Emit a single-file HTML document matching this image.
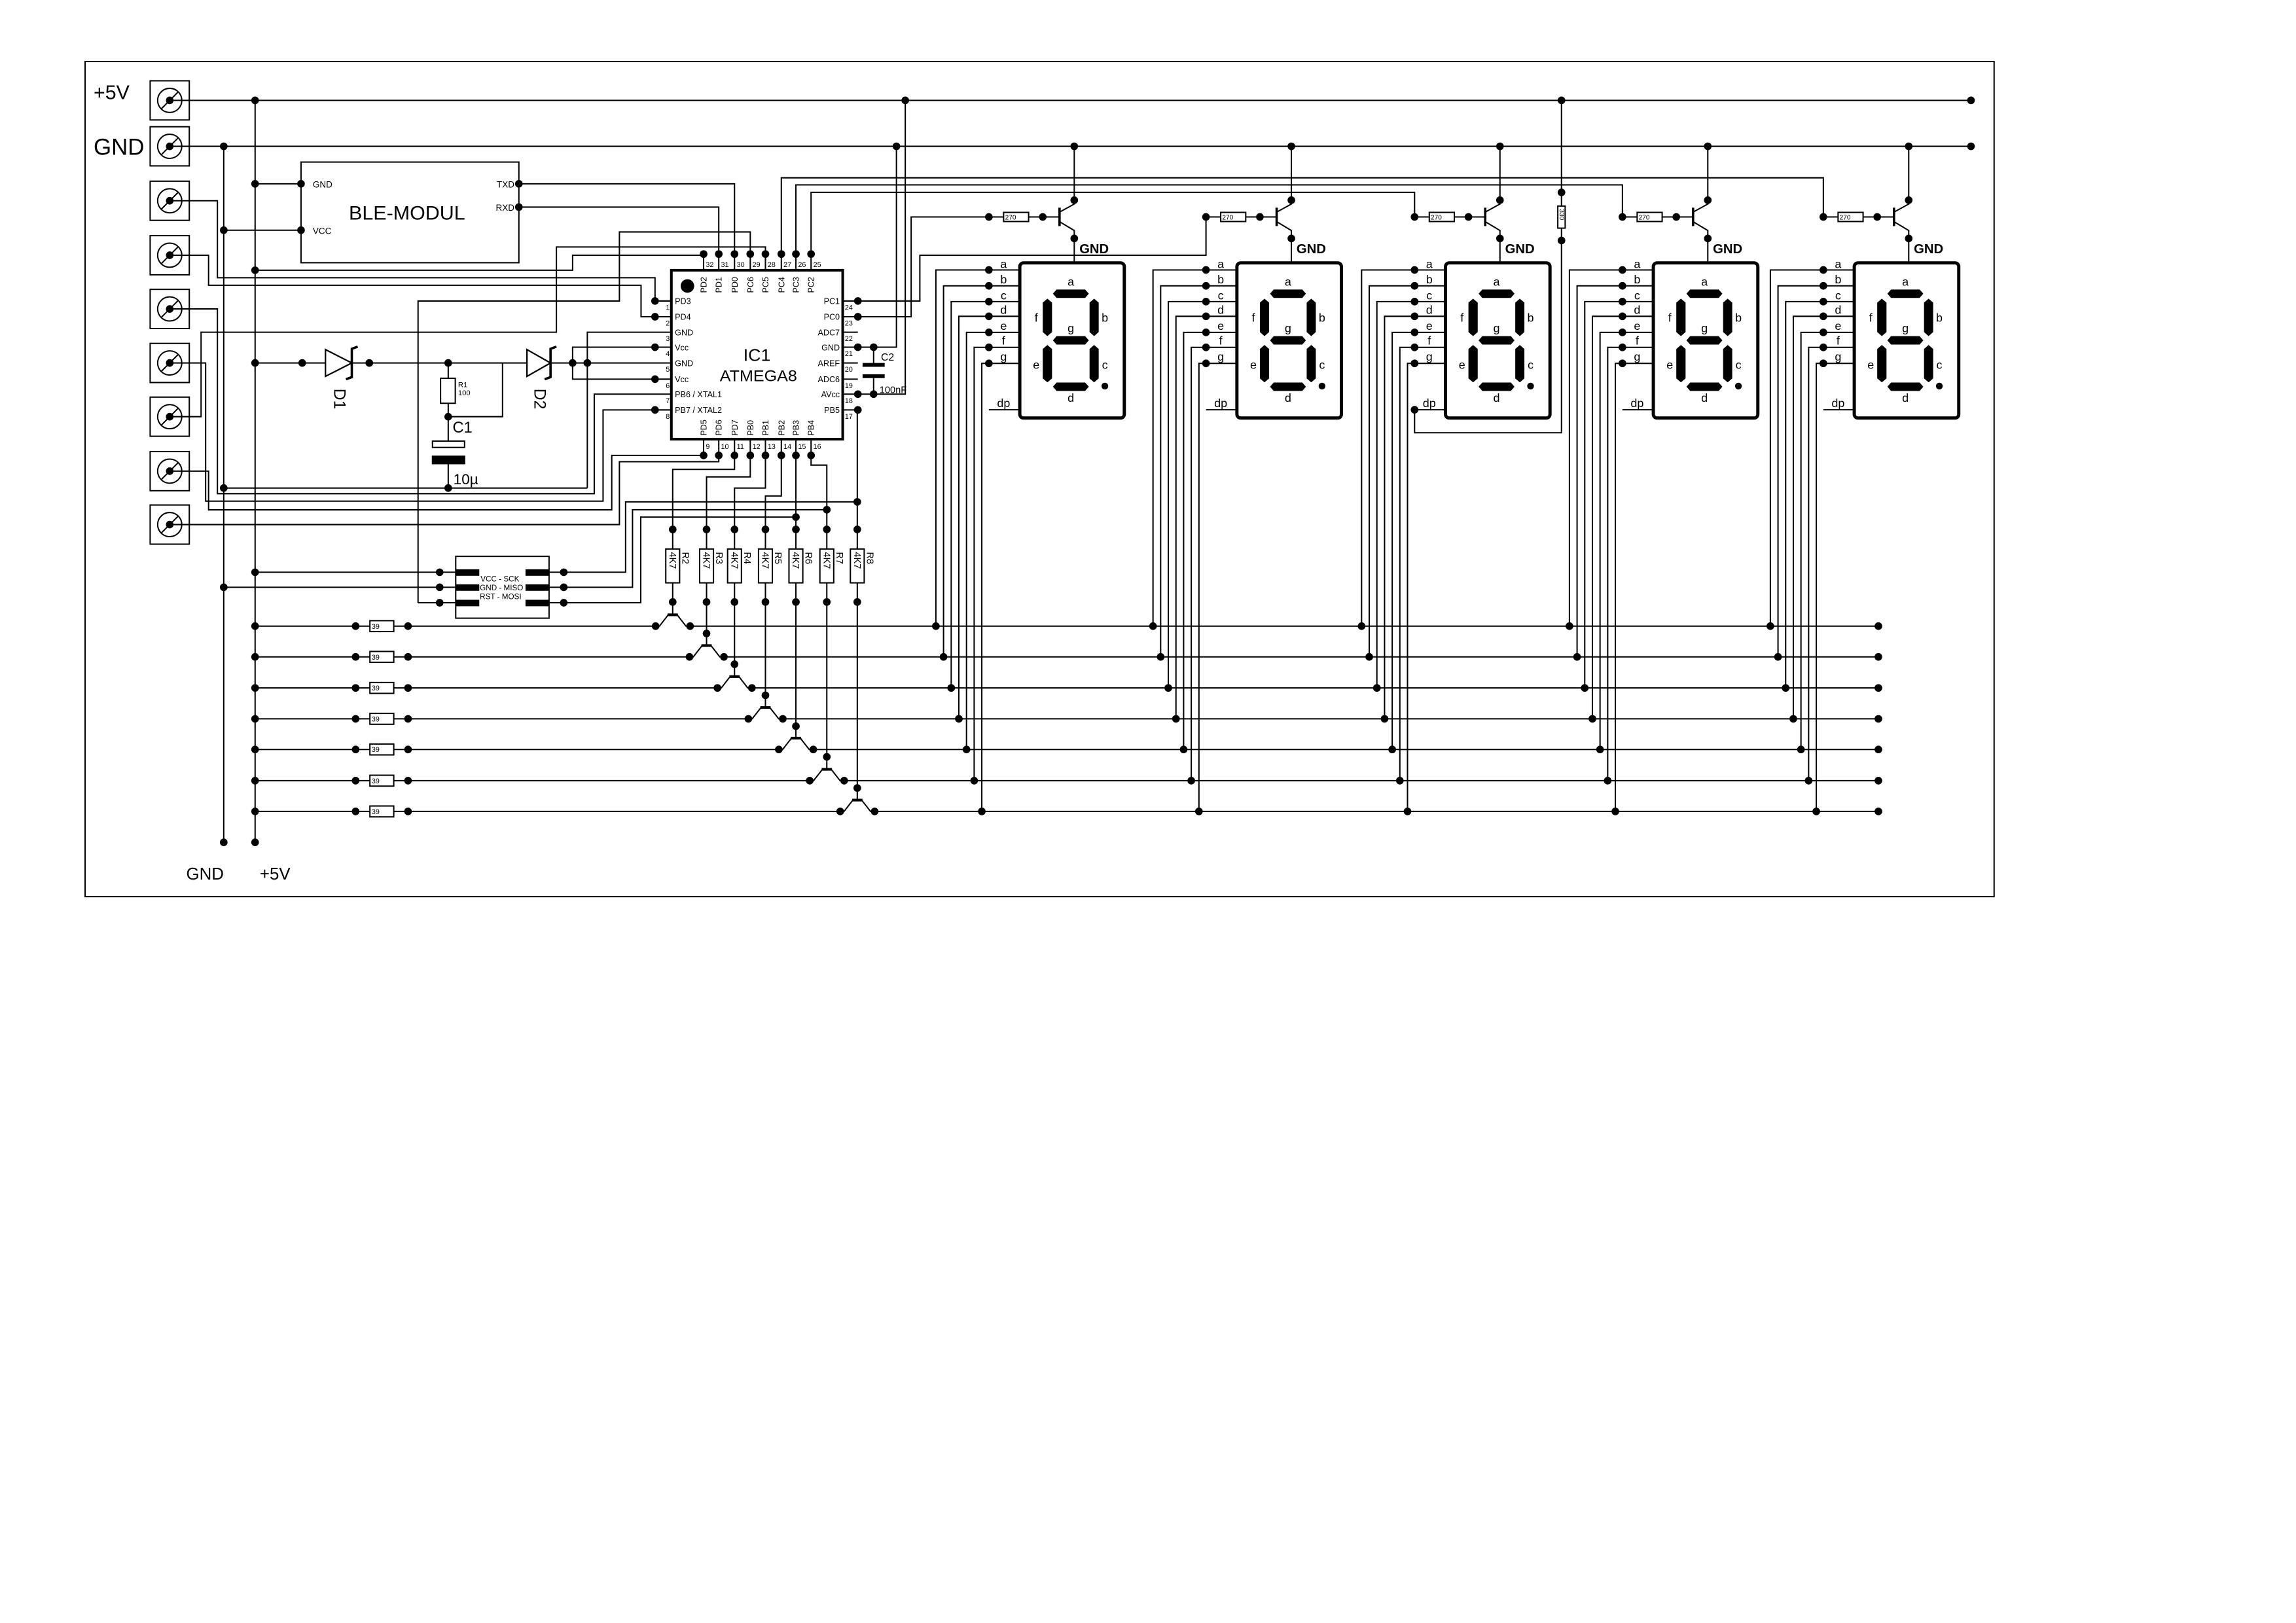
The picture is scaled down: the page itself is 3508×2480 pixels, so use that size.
<!DOCTYPE html>
<html><head><meta charset="utf-8"><style>
html,body{margin:0;padding:0;background:#fff;}
svg{display:block;}
text{font-family:"Liberation Sans",Arial,sans-serif;fill:#000;stroke:none;}
</style></head><body>
<svg xmlns="http://www.w3.org/2000/svg" width="3508" height="2480" viewBox="0 0 1559.8 1102.7" preserveAspectRatio="none">
<rect x="0" y="0" width="1559.8" height="1102.7" fill="#fff"/>
<g stroke="#000" stroke-width="0.9" fill="none" stroke-linejoin="miter">
<!-- frame -->
<rect x="57.8" y="41.8" width="1296.9" height="567.4"/>
<!-- terminals -->
<g id="terms">
<rect x="102" y="54.9" width="26.6" height="26.6"/><circle cx="115.3" cy="68.2" r="8.2"/><line x1="109.8" y1="73.7" x2="120.8" y2="62.7"/>
<rect x="102" y="86.1" width="26.6" height="26.6"/><circle cx="115.3" cy="99.4" r="8.2"/><line x1="109.8" y1="104.9" x2="120.8" y2="93.9"/>
<rect x="102" y="123.1" width="26.6" height="26.6"/><circle cx="115.3" cy="136.4" r="8.2"/><line x1="109.8" y1="141.9" x2="120.8" y2="130.9"/>
<rect x="102" y="160.1" width="26.6" height="26.6"/><circle cx="115.3" cy="173.4" r="8.2"/><line x1="109.8" y1="178.9" x2="120.8" y2="167.9"/>
<rect x="102" y="196.6" width="26.6" height="26.6"/><circle cx="115.3" cy="209.9" r="8.2"/><line x1="109.8" y1="215.4" x2="120.8" y2="204.4"/>
<rect x="102" y="233.3" width="26.6" height="26.6"/><circle cx="115.3" cy="246.6" r="8.2"/><line x1="109.8" y1="252.1" x2="120.8" y2="241.1"/>
<rect x="102" y="269.8" width="26.6" height="26.6"/><circle cx="115.3" cy="283.1" r="8.2"/><line x1="109.8" y1="288.6" x2="120.8" y2="277.6"/>
<rect x="102" y="306.8" width="26.6" height="26.6"/><circle cx="115.3" cy="320.1" r="8.2"/><line x1="109.8" y1="325.6" x2="120.8" y2="314.6"/>
<rect x="102" y="343.1" width="26.6" height="26.6"/><circle cx="115.3" cy="356.4" r="8.2"/><line x1="109.8" y1="361.9" x2="120.8" y2="350.9"/>
</g>
<!-- power rails -->
<line x1="115.3" y1="68.2" x2="1339" y2="68.2"/>
<line x1="115.3" y1="99.4" x2="1339" y2="99.4"/>
<line x1="173.3" y1="68.2" x2="173.3" y2="572.3"/>
<line x1="152" y1="99.4" x2="152" y2="572.3"/>
<!-- BLE -->
<rect x="204.5" y="110.1" width="148" height="68.4"/>
<line x1="173.3" y1="124.9" x2="204.5" y2="124.9"/>
<line x1="152" y1="156.4" x2="204.5" y2="156.4"/>
<polyline points="352.5,124.9 499,124.9 499,172.6"/>
<polyline points="352.5,140.7 488.3,140.7 488.3,172.6"/>
<!-- terminal routes -->
<polyline points="115.3,136.4 147.7,136.4 147.7,188.7 445,188.7 445,204.5 456,204.5"/>
<polyline points="115.3,173.4 141.7,173.4 141.7,193.8 435.5,193.8 435.5,215.2 456,215.2"/>
<polyline points="115.3,209.9 147.7,209.9 147.7,335.4 403.7,335.4 403.7,267.8 456,267.8"/>
<polyline points="115.3,246.6 139.7,246.6 139.7,340.5 409.7,340.5 409.7,278.5 456,278.5"/>
<polyline points="115.3,283.1 136.6,283.1 136.6,225.7 378,225.7 378,167.8 520,167.8 520,172.6"/>
<polyline points="115.3,320.1 141.7,320.1 141.7,346.4 415.6,346.4 415.6,309.4 478,309.4"/>
<polyline points="115.3,356.4 420.8,356.4 420.8,313.7 488.3,313.7 488.3,309.4"/>
<!-- +5V to pin 32 -->
<polyline points="173.3,183.6 389,183.6 389,173.4 478,173.4"/>
<!-- RST route -->
<polyline points="284,409.5 284,204.5 420.8,204.5 420.8,157.6 509.7,157.6 509.7,172.6"/>
<!-- power section -->
<line x1="173.3" y1="246.6" x2="221.1" y2="246.6"/>
<line x1="239" y1="246.6" x2="358" y2="246.6"/>
<line x1="374" y1="246.6" x2="456" y2="246.6"/>
<polygon points="221.1,237.5 221.1,255.7 239,246.6" stroke-width="1"/>
<polyline points="243,235.5 239,237 239,256.2 235,257.7" stroke-width="1.6"/>
<polygon points="358,237.5 358,255.7 374,246.6" stroke-width="1"/>
<polyline points="378,235.5 374,237 374,256.2 370,257.7" stroke-width="1.6"/>
<polyline points="456,235.9 389,235.9 389,257.6 456,257.6"/>
<polyline points="456,225.7 399,225.7 399,331.6"/>
<line x1="152" y1="331.6" x2="399" y2="331.6"/>
<line x1="304.5" y1="246.6" x2="304.5" y2="257"/>
<rect x="299.3" y="257" width="10" height="17"/>
<line x1="304.5" y1="274" x2="304.5" y2="299.7"/>
<polyline points="304.5,283.1 341.4,283.1 341.4,246.6"/>
<rect x="293.8" y="299.7" width="21.8" height="4.3"/>
<rect x="293.8" y="310" width="21.8" height="5" fill="#000"/>
<line x1="304.5" y1="315" x2="304.5" y2="331.6"/>
<!-- chip -->
<rect x="456.1" y="183.6" width="116.4" height="114.8" stroke-width="1.8"/>
<g>
<line x1="478" y1="172.6" x2="478" y2="183.6"/><line x1="488.3" y1="172.6" x2="488.3" y2="183.6"/><line x1="499" y1="172.6" x2="499" y2="183.6"/><line x1="509.7" y1="172.6" x2="509.7" y2="183.6"/><line x1="520" y1="172.6" x2="520" y2="183.6"/><line x1="530.8" y1="172.6" x2="530.8" y2="183.6"/><line x1="540.7" y1="172.6" x2="540.7" y2="183.6"/><line x1="551" y1="172.6" x2="551" y2="183.6"/>
<line x1="478" y1="298.4" x2="478" y2="309.4"/><line x1="488.3" y1="298.4" x2="488.3" y2="309.4"/><line x1="499" y1="298.4" x2="499" y2="309.4"/><line x1="509.7" y1="298.4" x2="509.7" y2="309.4"/><line x1="520" y1="298.4" x2="520" y2="309.4"/><line x1="530.8" y1="298.4" x2="530.8" y2="309.4"/><line x1="540.7" y1="298.4" x2="540.7" y2="309.4"/><line x1="551" y1="298.4" x2="551" y2="309.4"/>
<line x1="445" y1="204.5" x2="456" y2="204.5"/><line x1="445" y1="215.2" x2="456" y2="215.2"/><line x1="445" y1="235.9" x2="456" y2="235.9"/><line x1="445" y1="257.6" x2="456" y2="257.6"/><line x1="445" y1="278.5" x2="456" y2="278.5"/>
<line x1="572.5" y1="204.5" x2="582.8" y2="204.5"/><line x1="572.5" y1="215.2" x2="582.8" y2="215.2"/><line x1="572.5" y1="225.7" x2="582.8" y2="225.7"/><line x1="572.5" y1="235.9" x2="593.5" y2="235.9"/><line x1="572.5" y1="246.6" x2="582.8" y2="246.6"/><line x1="572.5" y1="257.6" x2="582.8" y2="257.6"/><line x1="572.5" y1="267.8" x2="593.5" y2="267.8"/><line x1="572.5" y1="278.5" x2="582.8" y2="278.5"/>
</g>
<!-- C2 and right pins -->
<line x1="593.5" y1="235.9" x2="593.5" y2="247.9"/>
<line x1="593.5" y1="255.6" x2="593.5" y2="267.8"/>
<line x1="586" y1="247.9" x2="601" y2="247.9" stroke-width="2.6"/>
<line x1="586" y1="255.6" x2="601" y2="255.6" stroke-width="2.6"/>
<polyline points="593.5,235.9 609,235.9 609,99.4"/>
<polyline points="593.5,267.8 615,267.8 615,68.2"/>
<polyline points="582.8,215.2 619,215.2 619,147.4 671.8,147.4"/>
<polyline points="582.8,204.5 624.9,204.5 624.9,173.4 819.3,173.4 819.3,147.4"/>
<polyline points="551,172.6 551,130.7 961,130.7 961,147.4"/>
<polyline points="540.7,172.6 540.7,125.6 1102.2,125.6 1102.2,147.4"/>
<polyline points="530.8,172.6 530.8,120.8 1238.7,120.8 1238.7,147.4"/>
<!-- bottom pin routes to resistor columns -->
<polyline points="499,309.4 499,318.9 457,318.9 457,409"/>
<polyline points="509.7,309.4 509.7,324 480,324 480,409"/>
<polyline points="520,309.4 520,331.6 499,331.6 499,409"/>
<polyline points="530.8,309.4 530.8,337 520,337 520,409"/>
<line x1="540.7" y1="309.4" x2="540.7" y2="409"/>
<polyline points="551,309.4 551,316 561.7,316 561.7,409"/>
<line x1="582.4" y1="278.5" x2="582.4" y2="409"/>
<!-- resistors R2..R8 -->
<g fill="#fff">
<rect x="452.3" y="373" width="9.4" height="23"/><rect x="475.3" y="373" width="9.4" height="23"/><rect x="494.3" y="373" width="9.4" height="23"/><rect x="515.3" y="373" width="9.4" height="23"/><rect x="536" y="373" width="9.4" height="23"/><rect x="557" y="373" width="9.4" height="23"/><rect x="577.7" y="373" width="9.4" height="23"/>
</g>
<!-- ISP -->
<rect x="309.6" y="378" width="63.4" height="42"/>
<line x1="173.3" y1="388.8" x2="309.6" y2="388.8"/>
<line x1="152" y1="399" x2="309.6" y2="399"/>
<line x1="284" y1="409.5" x2="309.6" y2="409.5"/>
<polyline points="373,388.8 425,388.8 425,341 582.4,341"/>
<polyline points="373,399 429.7,399 429.7,346.3 561.7,346.3"/>
<polyline points="373,409.5 435.3,409.5 435.3,351.3 540.7,351.3"/>
<g fill="#000" stroke="none">
<rect x="309.6" y="386.8" width="16" height="4.4"/><rect x="309.6" y="397" width="16" height="4.4"/><rect x="309.6" y="407.5" width="16" height="4.4"/>
<rect x="357" y="386.8" width="16" height="4.4"/><rect x="357" y="397" width="16" height="4.4"/><rect x="357" y="407.5" width="16" height="4.4"/>
</g>
<!-- rows -->
<g>
<line x1="173.3" y1="425.4" x2="445.4" y2="425.4"/><line x1="468.8" y1="425.4" x2="1276.1" y2="425.4"/>
<line x1="173.3" y1="446.3" x2="468.4" y2="446.3"/><line x1="491.8" y1="446.3" x2="1276.1" y2="446.3"/>
<line x1="173.3" y1="467.4" x2="487.4" y2="467.4"/><line x1="510.8" y1="467.4" x2="1276.1" y2="467.4"/>
<line x1="173.3" y1="488.4" x2="508.4" y2="488.4"/><line x1="531.8" y1="488.4" x2="1276.1" y2="488.4"/>
<line x1="173.3" y1="509.2" x2="529.1" y2="509.2"/><line x1="552.5" y1="509.2" x2="1276.1" y2="509.2"/>
<line x1="173.3" y1="530.4" x2="550.1" y2="530.4"/><line x1="573.5" y1="530.4" x2="1276.1" y2="530.4"/>
<line x1="173.3" y1="551.3" x2="570.8" y2="551.3"/><line x1="594.2" y1="551.3" x2="1276.1" y2="551.3"/>
</g>
<g fill="#fff">
<rect x="251.3" y="421.7" width="16.2" height="7.4"/><rect x="251.3" y="442.6" width="16.2" height="7.4"/><rect x="251.3" y="463.7" width="16.2" height="7.4"/><rect x="251.3" y="484.7" width="16.2" height="7.4"/><rect x="251.3" y="505.5" width="16.2" height="7.4"/><rect x="251.3" y="526.7" width="16.2" height="7.4"/><rect x="251.3" y="547.6" width="16.2" height="7.4"/>
</g>
<!-- row transistors -->
<g>
<line x1="457" y1="409" x2="457" y2="417.7"/><polyline points="445.4,425.4 448,425.4 454,417.7"/><polyline points="460,417.7 466,425.4 468.8,425.4"/><line x1="453.5" y1="417.7" x2="460.5" y2="417.7" stroke-width="1.8"/>
<line x1="480" y1="409" x2="480" y2="438.6"/><polyline points="468.4,446.3 471,446.3 477,438.6"/><polyline points="483,438.6 489,446.3 491.8,446.3"/><line x1="476.5" y1="438.6" x2="483.5" y2="438.6" stroke-width="1.8"/>
<line x1="499" y1="409" x2="499" y2="459.7"/><polyline points="487.4,467.4 490,467.4 496,459.7"/><polyline points="502,459.7 508,467.4 510.8,467.4"/><line x1="495.5" y1="459.7" x2="502.5" y2="459.7" stroke-width="1.8"/>
<line x1="520" y1="409" x2="520" y2="480.7"/><polyline points="508.4,488.4 511,488.4 517,480.7"/><polyline points="523,480.7 529,488.4 531.8,488.4"/><line x1="516.5" y1="480.7" x2="523.5" y2="480.7" stroke-width="1.8"/>
<line x1="540.7" y1="409" x2="540.7" y2="501.5"/><polyline points="529.1,509.2 531.7,509.2 537.7,501.5"/><polyline points="543.7,501.5 549.7,509.2 552.5,509.2"/><line x1="537.2" y1="501.5" x2="544.2" y2="501.5" stroke-width="1.8"/>
<line x1="561.7" y1="409" x2="561.7" y2="522.7"/><polyline points="550.1,530.4 552.7,530.4 558.7,522.7"/><polyline points="564.7,522.7 570.7,530.4 573.5,530.4"/><line x1="558.2" y1="522.7" x2="565.2" y2="522.7" stroke-width="1.8"/>
<line x1="582.4" y1="409" x2="582.4" y2="543.6"/><polyline points="570.8,551.3 573.4,551.3 579.4,543.6"/><polyline points="585.4,543.6 591.4,551.3 594.2,551.3"/><line x1="578.9" y1="543.6" x2="585.9" y2="543.6" stroke-width="1.8"/>
</g>
<!-- 330 resistor and D3 dp -->
<line x1="1060.8" y1="68.2" x2="1060.8" y2="140"/>
<rect x="1058.3" y="140" width="5" height="15" fill="#fff"/>
<polyline points="1060.8,155 1060.8,294 961,294 961,278.4"/>
</g>

<!-- displays -->
<g id="disp1" transform="translate(692.8,178.6)">
<g stroke="#000" stroke-width="0.9" fill="none">
<rect x="0" y="0" width="71" height="105.4" rx="2.5" stroke-width="2.2"/>
<polyline points="0,4.8 -57,4.8 -57,246.8"/><polyline points="0,15.6 -51.8,15.6 -51.8,267.7"/><polyline points="0,26.3 -46.6,26.3 -46.6,288.8"/><polyline points="0,36.3 -41.4,36.3 -41.4,309.8"/><polyline points="0,47.2 -36.2,47.2 -36.2,330.6"/><polyline points="0,57.4 -31,57.4 -31,351.8"/><polyline points="0,68.3 -25.8,68.3 -25.8,372.7"/>
<line x1="-21" y1="99.8" x2="0" y2="99.8"/>
<polyline points="37,-79.2 37,-40 27,-34.5"/><line x1="27" y1="-37.5" x2="27" y2="-25" stroke-width="1.6"/><polyline points="27,-28 37,-22 37,0"/>
<line x1="-21" y1="-31.2" x2="27" y2="-31.2"/><rect x="-11" y="-34.3" width="17" height="6.2" fill="#fff"/>
</g>
<g fill="#000">
<polygon points="22.5,20.95 25,18.1 44.4,18.1 46.9,20.95 44.4,23.8 25,23.8"/><polygon points="22.5,52.65 25,49.8 44.4,49.8 46.9,52.65 44.4,55.5 25,55.5"/><polygon points="22.5,84.15 25,81.3 44.4,81.3 46.9,84.15 44.4,87 25,87"/>
<polygon points="18.75,24.3 21.9,27 21.9,47 18.75,49.8 15.6,47 15.6,27"/><polygon points="50.5,24.3 53.6,27 53.6,47 50.5,49.8 47.4,47 47.4,27"/>
<polygon points="18.75,55.8 21.9,58.5 21.9,78.5 18.75,81.2 15.6,78.5 15.6,58.5"/><polygon points="50.5,55.8 53.6,58.5 53.6,78.5 50.5,81.2 47.4,78.5 47.4,58.5"/>
<circle cx="57.8" cy="83.7" r="2.3"/>
<circle cx="-21" cy="4.8" r="2.6"/><circle cx="-21" cy="15.6" r="2.6"/><circle cx="-21" cy="26.3" r="2.6"/><circle cx="-21" cy="36.3" r="2.6"/><circle cx="-21" cy="47.2" r="2.6"/><circle cx="-21" cy="57.4" r="2.6"/><circle cx="-21" cy="68.3" r="2.6"/>
<circle cx="-57" cy="246.8" r="2.6"/><circle cx="-51.8" cy="267.7" r="2.6"/><circle cx="-46.6" cy="288.8" r="2.6"/><circle cx="-41.4" cy="309.8" r="2.6"/><circle cx="-36.2" cy="330.6" r="2.6"/><circle cx="-31" cy="351.8" r="2.6"/><circle cx="-25.8" cy="372.7" r="2.6"/>
<circle cx="37" cy="-79.2" r="2.6"/><circle cx="37" cy="-42.6" r="2.6"/><circle cx="37" cy="-16.6" r="2.6"/><circle cx="-21" cy="-31.2" r="2.6"/><circle cx="15.6" cy="-31.2" r="2.6"/>
</g>
<g font-size="8" text-anchor="middle">
<text x="-11" y="3.5">a</text><text x="-11" y="14">b</text><text x="-11" y="24.8">c</text><text x="-11" y="34.5">d</text><text x="-11" y="45.5">e</text><text x="-11" y="55.5">f</text><text x="-11" y="66.5">g</text><text x="-11" y="98">dp</text>
<text x="34.7" y="15.5">a</text><text x="11.2" y="40">f</text><text x="57.8" y="40">b</text><text x="34.7" y="47">g</text><text x="11.2" y="72">e</text><text x="57.8" y="72">c</text><text x="34.7" y="94.5">d</text>
</g>
<text x="40.5" y="-6.5" font-size="9" font-weight="bold">GND</text>
<text x="-10" y="-29.4" font-size="4.5">270</text>
</g>

<g transform="translate(840.3,178.6)">
<g stroke="#000" stroke-width="0.9" fill="none">
<rect x="0" y="0" width="71" height="105.4" rx="2.5" stroke-width="2.2"/>
<polyline points="0,4.8 -57,4.8 -57,246.8"/><polyline points="0,15.6 -51.8,15.6 -51.8,267.7"/><polyline points="0,26.3 -46.6,26.3 -46.6,288.8"/><polyline points="0,36.3 -41.4,36.3 -41.4,309.8"/><polyline points="0,47.2 -36.2,47.2 -36.2,330.6"/><polyline points="0,57.4 -31,57.4 -31,351.8"/><polyline points="0,68.3 -25.8,68.3 -25.8,372.7"/>
<line x1="-21" y1="99.8" x2="0" y2="99.8"/>
<polyline points="37,-79.2 37,-40 27,-34.5"/><line x1="27" y1="-37.5" x2="27" y2="-25" stroke-width="1.6"/><polyline points="27,-28 37,-22 37,0"/>
<line x1="-21" y1="-31.2" x2="27" y2="-31.2"/><rect x="-11" y="-34.3" width="17" height="6.2" fill="#fff"/>
</g>
<g fill="#000">
<polygon points="22.5,20.95 25,18.1 44.4,18.1 46.9,20.95 44.4,23.8 25,23.8"/><polygon points="22.5,52.65 25,49.8 44.4,49.8 46.9,52.65 44.4,55.5 25,55.5"/><polygon points="22.5,84.15 25,81.3 44.4,81.3 46.9,84.15 44.4,87 25,87"/>
<polygon points="18.75,24.3 21.9,27 21.9,47 18.75,49.8 15.6,47 15.6,27"/><polygon points="50.5,24.3 53.6,27 53.6,47 50.5,49.8 47.4,47 47.4,27"/>
<polygon points="18.75,55.8 21.9,58.5 21.9,78.5 18.75,81.2 15.6,78.5 15.6,58.5"/><polygon points="50.5,55.8 53.6,58.5 53.6,78.5 50.5,81.2 47.4,78.5 47.4,58.5"/>
<circle cx="57.8" cy="83.7" r="2.3"/>
<circle cx="-21" cy="4.8" r="2.6"/><circle cx="-21" cy="15.6" r="2.6"/><circle cx="-21" cy="26.3" r="2.6"/><circle cx="-21" cy="36.3" r="2.6"/><circle cx="-21" cy="47.2" r="2.6"/><circle cx="-21" cy="57.4" r="2.6"/><circle cx="-21" cy="68.3" r="2.6"/>
<circle cx="-57" cy="246.8" r="2.6"/><circle cx="-51.8" cy="267.7" r="2.6"/><circle cx="-46.6" cy="288.8" r="2.6"/><circle cx="-41.4" cy="309.8" r="2.6"/><circle cx="-36.2" cy="330.6" r="2.6"/><circle cx="-31" cy="351.8" r="2.6"/><circle cx="-25.8" cy="372.7" r="2.6"/>
<circle cx="37" cy="-79.2" r="2.6"/><circle cx="37" cy="-42.6" r="2.6"/><circle cx="37" cy="-16.6" r="2.6"/><circle cx="-21" cy="-31.2" r="2.6"/><circle cx="15.6" cy="-31.2" r="2.6"/>
</g>
<g font-size="8" text-anchor="middle">
<text x="-11" y="3.5">a</text><text x="-11" y="14">b</text><text x="-11" y="24.8">c</text><text x="-11" y="34.5">d</text><text x="-11" y="45.5">e</text><text x="-11" y="55.5">f</text><text x="-11" y="66.5">g</text><text x="-11" y="98">dp</text>
<text x="34.7" y="15.5">a</text><text x="11.2" y="40">f</text><text x="57.8" y="40">b</text><text x="34.7" y="47">g</text><text x="11.2" y="72">e</text><text x="57.8" y="72">c</text><text x="34.7" y="94.5">d</text>
</g>
<text x="40.5" y="-6.5" font-size="9" font-weight="bold">GND</text>
<text x="-10" y="-29.4" font-size="4.5">270</text>
</g>

<g transform="translate(982,178.6)">
<g stroke="#000" stroke-width="0.9" fill="none">
<rect x="0" y="0" width="71" height="105.4" rx="2.5" stroke-width="2.2"/>
<polyline points="0,4.8 -57,4.8 -57,246.8"/><polyline points="0,15.6 -51.8,15.6 -51.8,267.7"/><polyline points="0,26.3 -46.6,26.3 -46.6,288.8"/><polyline points="0,36.3 -41.4,36.3 -41.4,309.8"/><polyline points="0,47.2 -36.2,47.2 -36.2,330.6"/><polyline points="0,57.4 -31,57.4 -31,351.8"/><polyline points="0,68.3 -25.8,68.3 -25.8,372.7"/>
<line x1="-21" y1="99.8" x2="0" y2="99.8"/>
<polyline points="37,-79.2 37,-40 27,-34.5"/><line x1="27" y1="-37.5" x2="27" y2="-25" stroke-width="1.6"/><polyline points="27,-28 37,-22 37,0"/>
<line x1="-21" y1="-31.2" x2="27" y2="-31.2"/><rect x="-11" y="-34.3" width="17" height="6.2" fill="#fff"/>
</g>
<g fill="#000">
<polygon points="22.5,20.95 25,18.1 44.4,18.1 46.9,20.95 44.4,23.8 25,23.8"/><polygon points="22.5,52.65 25,49.8 44.4,49.8 46.9,52.65 44.4,55.5 25,55.5"/><polygon points="22.5,84.15 25,81.3 44.4,81.3 46.9,84.15 44.4,87 25,87"/>
<polygon points="18.75,24.3 21.9,27 21.9,47 18.75,49.8 15.6,47 15.6,27"/><polygon points="50.5,24.3 53.6,27 53.6,47 50.5,49.8 47.4,47 47.4,27"/>
<polygon points="18.75,55.8 21.9,58.5 21.9,78.5 18.75,81.2 15.6,78.5 15.6,58.5"/><polygon points="50.5,55.8 53.6,58.5 53.6,78.5 50.5,81.2 47.4,78.5 47.4,58.5"/>
<circle cx="57.8" cy="83.7" r="2.3"/>
<circle cx="-21" cy="4.8" r="2.6"/><circle cx="-21" cy="15.6" r="2.6"/><circle cx="-21" cy="26.3" r="2.6"/><circle cx="-21" cy="36.3" r="2.6"/><circle cx="-21" cy="47.2" r="2.6"/><circle cx="-21" cy="57.4" r="2.6"/><circle cx="-21" cy="68.3" r="2.6"/>
<circle cx="-57" cy="246.8" r="2.6"/><circle cx="-51.8" cy="267.7" r="2.6"/><circle cx="-46.6" cy="288.8" r="2.6"/><circle cx="-41.4" cy="309.8" r="2.6"/><circle cx="-36.2" cy="330.6" r="2.6"/><circle cx="-31" cy="351.8" r="2.6"/><circle cx="-25.8" cy="372.7" r="2.6"/>
<circle cx="37" cy="-79.2" r="2.6"/><circle cx="37" cy="-42.6" r="2.6"/><circle cx="37" cy="-16.6" r="2.6"/><circle cx="-21" cy="-31.2" r="2.6"/><circle cx="15.6" cy="-31.2" r="2.6"/>
<circle cx="-21" cy="99.8" r="2.6"/>
</g>
<g font-size="8" text-anchor="middle">
<text x="-11" y="3.5">a</text><text x="-11" y="14">b</text><text x="-11" y="24.8">c</text><text x="-11" y="34.5">d</text><text x="-11" y="45.5">e</text><text x="-11" y="55.5">f</text><text x="-11" y="66.5">g</text><text x="-11" y="98">dp</text>
<text x="34.7" y="15.5">a</text><text x="11.2" y="40">f</text><text x="57.8" y="40">b</text><text x="34.7" y="47">g</text><text x="11.2" y="72">e</text><text x="57.8" y="72">c</text><text x="34.7" y="94.5">d</text>
</g>
<text x="40.5" y="-6.5" font-size="9" font-weight="bold">GND</text>
<text x="-10" y="-29.4" font-size="4.5">270</text>
</g>

<g transform="translate(1123.2,178.6)">
<g stroke="#000" stroke-width="0.9" fill="none">
<rect x="0" y="0" width="71" height="105.4" rx="2.5" stroke-width="2.2"/>
<polyline points="0,4.8 -57,4.8 -57,246.8"/><polyline points="0,15.6 -51.8,15.6 -51.8,267.7"/><polyline points="0,26.3 -46.6,26.3 -46.6,288.8"/><polyline points="0,36.3 -41.4,36.3 -41.4,309.8"/><polyline points="0,47.2 -36.2,47.2 -36.2,330.6"/><polyline points="0,57.4 -31,57.4 -31,351.8"/><polyline points="0,68.3 -25.8,68.3 -25.8,372.7"/>
<line x1="-21" y1="99.8" x2="0" y2="99.8"/>
<polyline points="37,-79.2 37,-40 27,-34.5"/><line x1="27" y1="-37.5" x2="27" y2="-25" stroke-width="1.6"/><polyline points="27,-28 37,-22 37,0"/>
<line x1="-21" y1="-31.2" x2="27" y2="-31.2"/><rect x="-11" y="-34.3" width="17" height="6.2" fill="#fff"/>
</g>
<g fill="#000">
<polygon points="22.5,20.95 25,18.1 44.4,18.1 46.9,20.95 44.4,23.8 25,23.8"/><polygon points="22.5,52.65 25,49.8 44.4,49.8 46.9,52.65 44.4,55.5 25,55.5"/><polygon points="22.5,84.15 25,81.3 44.4,81.3 46.9,84.15 44.4,87 25,87"/>
<polygon points="18.75,24.3 21.9,27 21.9,47 18.75,49.8 15.6,47 15.6,27"/><polygon points="50.5,24.3 53.6,27 53.6,47 50.5,49.8 47.4,47 47.4,27"/>
<polygon points="18.75,55.8 21.9,58.5 21.9,78.5 18.75,81.2 15.6,78.5 15.6,58.5"/><polygon points="50.5,55.8 53.6,58.5 53.6,78.5 50.5,81.2 47.4,78.5 47.4,58.5"/>
<circle cx="57.8" cy="83.7" r="2.3"/>
<circle cx="-21" cy="4.8" r="2.6"/><circle cx="-21" cy="15.6" r="2.6"/><circle cx="-21" cy="26.3" r="2.6"/><circle cx="-21" cy="36.3" r="2.6"/><circle cx="-21" cy="47.2" r="2.6"/><circle cx="-21" cy="57.4" r="2.6"/><circle cx="-21" cy="68.3" r="2.6"/>
<circle cx="-57" cy="246.8" r="2.6"/><circle cx="-51.8" cy="267.7" r="2.6"/><circle cx="-46.6" cy="288.8" r="2.6"/><circle cx="-41.4" cy="309.8" r="2.6"/><circle cx="-36.2" cy="330.6" r="2.6"/><circle cx="-31" cy="351.8" r="2.6"/><circle cx="-25.8" cy="372.7" r="2.6"/>
<circle cx="37" cy="-79.2" r="2.6"/><circle cx="37" cy="-42.6" r="2.6"/><circle cx="37" cy="-16.6" r="2.6"/><circle cx="-21" cy="-31.2" r="2.6"/><circle cx="15.6" cy="-31.2" r="2.6"/>
</g>
<g font-size="8" text-anchor="middle">
<text x="-11" y="3.5">a</text><text x="-11" y="14">b</text><text x="-11" y="24.8">c</text><text x="-11" y="34.5">d</text><text x="-11" y="45.5">e</text><text x="-11" y="55.5">f</text><text x="-11" y="66.5">g</text><text x="-11" y="98">dp</text>
<text x="34.7" y="15.5">a</text><text x="11.2" y="40">f</text><text x="57.8" y="40">b</text><text x="34.7" y="47">g</text><text x="11.2" y="72">e</text><text x="57.8" y="72">c</text><text x="34.7" y="94.5">d</text>
</g>
<text x="40.5" y="-6.5" font-size="9" font-weight="bold">GND</text>
<text x="-10" y="-29.4" font-size="4.5">270</text>
</g>

<g transform="translate(1259.7,178.6)">
<g stroke="#000" stroke-width="0.9" fill="none">
<rect x="0" y="0" width="71" height="105.4" rx="2.5" stroke-width="2.2"/>
<polyline points="0,4.8 -57,4.8 -57,246.8"/><polyline points="0,15.6 -51.8,15.6 -51.8,267.7"/><polyline points="0,26.3 -46.6,26.3 -46.6,288.8"/><polyline points="0,36.3 -41.4,36.3 -41.4,309.8"/><polyline points="0,47.2 -36.2,47.2 -36.2,330.6"/><polyline points="0,57.4 -31,57.4 -31,351.8"/><polyline points="0,68.3 -25.8,68.3 -25.8,372.7"/>
<line x1="-21" y1="99.8" x2="0" y2="99.8"/>
<polyline points="37,-79.2 37,-40 27,-34.5"/><line x1="27" y1="-37.5" x2="27" y2="-25" stroke-width="1.6"/><polyline points="27,-28 37,-22 37,0"/>
<line x1="-21" y1="-31.2" x2="27" y2="-31.2"/><rect x="-11" y="-34.3" width="17" height="6.2" fill="#fff"/>
</g>
<g fill="#000">
<polygon points="22.5,20.95 25,18.1 44.4,18.1 46.9,20.95 44.4,23.8 25,23.8"/><polygon points="22.5,52.65 25,49.8 44.4,49.8 46.9,52.65 44.4,55.5 25,55.5"/><polygon points="22.5,84.15 25,81.3 44.4,81.3 46.9,84.15 44.4,87 25,87"/>
<polygon points="18.75,24.3 21.9,27 21.9,47 18.75,49.8 15.6,47 15.6,27"/><polygon points="50.5,24.3 53.6,27 53.6,47 50.5,49.8 47.4,47 47.4,27"/>
<polygon points="18.75,55.8 21.9,58.5 21.9,78.5 18.75,81.2 15.6,78.5 15.6,58.5"/><polygon points="50.5,55.8 53.6,58.5 53.6,78.5 50.5,81.2 47.4,78.5 47.4,58.5"/>
<circle cx="57.8" cy="83.7" r="2.3"/>
<circle cx="-21" cy="4.8" r="2.6"/><circle cx="-21" cy="15.6" r="2.6"/><circle cx="-21" cy="26.3" r="2.6"/><circle cx="-21" cy="36.3" r="2.6"/><circle cx="-21" cy="47.2" r="2.6"/><circle cx="-21" cy="57.4" r="2.6"/><circle cx="-21" cy="68.3" r="2.6"/>
<circle cx="-57" cy="246.8" r="2.6"/><circle cx="-51.8" cy="267.7" r="2.6"/><circle cx="-46.6" cy="288.8" r="2.6"/><circle cx="-41.4" cy="309.8" r="2.6"/><circle cx="-36.2" cy="330.6" r="2.6"/><circle cx="-31" cy="351.8" r="2.6"/><circle cx="-25.8" cy="372.7" r="2.6"/>
<circle cx="37" cy="-79.2" r="2.6"/><circle cx="37" cy="-42.6" r="2.6"/><circle cx="37" cy="-16.6" r="2.6"/><circle cx="-21" cy="-31.2" r="2.6"/><circle cx="15.6" cy="-31.2" r="2.6"/>
</g>
<g font-size="8" text-anchor="middle">
<text x="-11" y="3.5">a</text><text x="-11" y="14">b</text><text x="-11" y="24.8">c</text><text x="-11" y="34.5">d</text><text x="-11" y="45.5">e</text><text x="-11" y="55.5">f</text><text x="-11" y="66.5">g</text><text x="-11" y="98">dp</text>
<text x="34.7" y="15.5">a</text><text x="11.2" y="40">f</text><text x="57.8" y="40">b</text><text x="34.7" y="47">g</text><text x="11.2" y="72">e</text><text x="57.8" y="72">c</text><text x="34.7" y="94.5">d</text>
</g>
<text x="40.5" y="-6.5" font-size="9" font-weight="bold">GND</text>
<text x="-10" y="-29.4" font-size="4.5">270</text>
</g>

<!-- dots -->
<g fill="#000">
<circle cx="115.3" cy="68.2" r="2.6"/><circle cx="115.3" cy="99.4" r="2.6"/><circle cx="115.3" cy="136.4" r="2.6"/><circle cx="115.3" cy="173.4" r="2.6"/><circle cx="115.3" cy="209.9" r="2.6"/><circle cx="115.3" cy="246.6" r="2.6"/><circle cx="115.3" cy="283.1" r="2.6"/><circle cx="115.3" cy="320.1" r="2.6"/><circle cx="115.3" cy="356.4" r="2.6"/>
<circle cx="173.3" cy="68.2" r="2.6"/><circle cx="615" cy="68.2" r="2.6"/><circle cx="1060.8" cy="68.2" r="2.6"/><circle cx="1339" cy="68.2" r="2.6"/>
<circle cx="152" cy="99.4" r="2.6"/><circle cx="609" cy="99.4" r="2.6"/><circle cx="1339" cy="99.4" r="2.6"/>
<circle cx="173.3" cy="124.9" r="2.6"/><circle cx="204.5" cy="124.9" r="2.6"/><circle cx="152" cy="156.4" r="2.6"/><circle cx="204.5" cy="156.4" r="2.6"/><circle cx="352.5" cy="124.9" r="2.6"/><circle cx="352.5" cy="140.7" r="2.6"/>
<circle cx="173.3" cy="183.6" r="2.6"/><circle cx="173.3" cy="246.6" r="2.6"/><circle cx="205.3" cy="246.6" r="2.6"/><circle cx="250.9" cy="246.6" r="2.6"/><circle cx="304.5" cy="246.6" r="2.6"/><circle cx="304.5" cy="283.1" r="2.6"/><circle cx="304.5" cy="331.6" r="2.6"/><circle cx="152" cy="331.6" r="2.6"/><circle cx="389" cy="246.6" r="2.6"/><circle cx="399" cy="246.6" r="2.6"/>
<circle cx="478" cy="172.6" r="2.6"/><circle cx="488.3" cy="172.6" r="2.6"/><circle cx="499" cy="172.6" r="2.6"/><circle cx="509.7" cy="172.6" r="2.6"/><circle cx="520" cy="172.6" r="2.6"/><circle cx="530.8" cy="172.6" r="2.6"/><circle cx="540.7" cy="172.6" r="2.6"/><circle cx="551" cy="172.6" r="2.6"/>
<circle cx="478" cy="309.4" r="2.6"/><circle cx="488.3" cy="309.4" r="2.6"/><circle cx="499" cy="309.4" r="2.6"/><circle cx="509.7" cy="309.4" r="2.6"/><circle cx="520" cy="309.4" r="2.6"/><circle cx="530.8" cy="309.4" r="2.6"/><circle cx="540.7" cy="309.4" r="2.6"/><circle cx="551" cy="309.4" r="2.6"/>
<circle cx="445" cy="204.5" r="2.6"/><circle cx="445" cy="215.2" r="2.6"/><circle cx="445" cy="235.9" r="2.6"/><circle cx="445" cy="257.6" r="2.6"/><circle cx="445" cy="278.5" r="2.6"/>
<circle cx="582.8" cy="204.5" r="2.6"/><circle cx="582.8" cy="215.2" r="2.6"/><circle cx="582.8" cy="235.9" r="2.6"/><circle cx="593.5" cy="235.9" r="2.6"/><circle cx="582.8" cy="267.8" r="2.6"/><circle cx="593.5" cy="267.8" r="2.6"/><circle cx="582.8" cy="278.5" r="2.6"/>
<circle cx="457" cy="359.7" r="2.6"/><circle cx="480" cy="359.7" r="2.6"/><circle cx="499" cy="359.7" r="2.6"/><circle cx="520" cy="359.7" r="2.6"/><circle cx="540.7" cy="359.7" r="2.6"/><circle cx="561.7" cy="359.7" r="2.6"/><circle cx="582.4" cy="359.7" r="2.6"/>
<circle cx="457" cy="409" r="2.6"/><circle cx="480" cy="409" r="2.6"/><circle cx="499" cy="409" r="2.6"/><circle cx="520" cy="409" r="2.6"/><circle cx="540.7" cy="409" r="2.6"/><circle cx="561.7" cy="409" r="2.6"/><circle cx="582.4" cy="409" r="2.6"/>
<circle cx="582.4" cy="341" r="2.6"/><circle cx="561.7" cy="346.3" r="2.6"/><circle cx="540.7" cy="351.3" r="2.6"/>
<circle cx="173.3" cy="388.8" r="2.6"/><circle cx="152" cy="399" r="2.6"/><circle cx="298.7" cy="388.8" r="2.6"/><circle cx="298.7" cy="399" r="2.6"/><circle cx="298.7" cy="409.5" r="2.6"/><circle cx="383" cy="388.8" r="2.6"/><circle cx="383" cy="399" r="2.6"/><circle cx="383" cy="409.5" r="2.6"/>
<circle cx="173.3" cy="425.4" r="2.6"/><circle cx="241.6" cy="425.4" r="2.6"/><circle cx="277.2" cy="425.4" r="2.6"/><circle cx="445.4" cy="425.4" r="2.6"/><circle cx="468.8" cy="425.4" r="2.6"/><circle cx="1276.1" cy="425.4" r="2.6"/>
<circle cx="173.3" cy="446.3" r="2.6"/><circle cx="241.6" cy="446.3" r="2.6"/><circle cx="277.2" cy="446.3" r="2.6"/><circle cx="468.4" cy="446.3" r="2.6"/><circle cx="491.8" cy="446.3" r="2.6"/><circle cx="1276.1" cy="446.3" r="2.6"/><circle cx="480" cy="430.4" r="2.6"/>
<circle cx="173.3" cy="467.4" r="2.6"/><circle cx="241.6" cy="467.4" r="2.6"/><circle cx="277.2" cy="467.4" r="2.6"/><circle cx="487.4" cy="467.4" r="2.6"/><circle cx="510.8" cy="467.4" r="2.6"/><circle cx="1276.1" cy="467.4" r="2.6"/><circle cx="499" cy="451.3" r="2.6"/>
<circle cx="173.3" cy="488.4" r="2.6"/><circle cx="241.6" cy="488.4" r="2.6"/><circle cx="277.2" cy="488.4" r="2.6"/><circle cx="508.4" cy="488.4" r="2.6"/><circle cx="531.8" cy="488.4" r="2.6"/><circle cx="1276.1" cy="488.4" r="2.6"/><circle cx="520" cy="472.4" r="2.6"/>
<circle cx="173.3" cy="509.2" r="2.6"/><circle cx="241.6" cy="509.2" r="2.6"/><circle cx="277.2" cy="509.2" r="2.6"/><circle cx="529.1" cy="509.2" r="2.6"/><circle cx="552.5" cy="509.2" r="2.6"/><circle cx="1276.1" cy="509.2" r="2.6"/><circle cx="540.7" cy="493.4" r="2.6"/>
<circle cx="173.3" cy="530.4" r="2.6"/><circle cx="241.6" cy="530.4" r="2.6"/><circle cx="277.2" cy="530.4" r="2.6"/><circle cx="550.1" cy="530.4" r="2.6"/><circle cx="573.5" cy="530.4" r="2.6"/><circle cx="1276.1" cy="530.4" r="2.6"/><circle cx="561.7" cy="514.2" r="2.6"/>
<circle cx="173.3" cy="551.3" r="2.6"/><circle cx="241.6" cy="551.3" r="2.6"/><circle cx="277.2" cy="551.3" r="2.6"/><circle cx="570.8" cy="551.3" r="2.6"/><circle cx="594.2" cy="551.3" r="2.6"/><circle cx="1276.1" cy="551.3" r="2.6"/><circle cx="582.4" cy="535.4" r="2.6"/>
<circle cx="173.3" cy="572.3" r="2.6"/><circle cx="152" cy="572.3" r="2.6"/>
<circle cx="1060.8" cy="130.7" r="2.6"/><circle cx="1060.8" cy="163.4" r="2.6"/>
<circle cx="467" cy="194.3" r="4.6"/>
</g>

<!-- text -->
<text x="63.6" y="67.4" font-size="13.5">+5V</text>
<text x="63.6" y="105.2" font-size="15.5">GND</text>
<text x="126.5" y="597.5" font-size="11.5">GND</text>
<text x="176.5" y="597.5" font-size="11.5">+5V</text>
<text x="212.5" y="127.4" font-size="6">GND</text>
<text x="212.5" y="158.9" font-size="6">VCC</text>
<text x="237" y="149.2" font-size="13" textLength="79" lengthAdjust="spacingAndGlyphs">BLE-MODUL</text>
<text x="349.5" y="127.4" font-size="6" text-anchor="end">TXD</text>
<text x="349.5" y="143.2" font-size="6" text-anchor="end">RXD</text>
<text x="505" y="245.3" font-size="11.5" textLength="18.5" lengthAdjust="spacingAndGlyphs">IC1</text>
<text x="489" y="258.9" font-size="10.5" textLength="52.5" lengthAdjust="spacingAndGlyphs">ATMEGA8</text>
<g font-size="5.6">
<text x="458.5" y="206.6">PD3</text><text x="458.5" y="217.3">PD4</text><text x="458.5" y="227.8">GND</text><text x="458.5" y="238">Vcc</text><text x="458.5" y="248.7">GND</text><text x="458.5" y="259.7">Vcc</text><text x="458.5" y="269.9">PB6 / XTAL1</text><text x="458.5" y="280.6">PB7 / XTAL2</text>
</g>
<g font-size="5.6" text-anchor="end">
<text x="570.5" y="206.6">PC1</text><text x="570.5" y="217.3">PC0</text><text x="570.5" y="227.8">ADC7</text><text x="570.5" y="238">GND</text><text x="570.5" y="248.7">AREF</text><text x="570.5" y="259.7">ADC6</text><text x="570.5" y="269.9">AVcc</text><text x="570.5" y="280.6">PB5</text>
</g>
<g font-size="4.8" text-anchor="end">
<text x="455" y="210.5">1</text><text x="455" y="221.2">2</text><text x="455" y="231.7">3</text><text x="455" y="241.9">4</text><text x="455" y="252.6">5</text><text x="455" y="263.6">6</text><text x="455" y="273.8">7</text><text x="455" y="284.5">8</text>
</g>
<g font-size="4.8">
<text x="574" y="210.5">24</text><text x="574" y="221.2">23</text><text x="574" y="231.7">22</text><text x="574" y="241.9">21</text><text x="574" y="252.6">20</text><text x="574" y="263.6">19</text><text x="574" y="273.8">18</text><text x="574" y="284.5">17</text>
<text x="479.5" y="181.5">32</text><text x="489.8" y="181.5">31</text><text x="500.5" y="181.5">30</text><text x="511.2" y="181.5">29</text><text x="521.5" y="181.5">28</text><text x="532.3" y="181.5">27</text><text x="542.2" y="181.5">26</text><text x="552.5" y="181.5">25</text>
<text x="479.5" y="305">9</text><text x="489.8" y="305">10</text><text x="500.5" y="305">11</text><text x="511.2" y="305">12</text><text x="521.5" y="305">13</text><text x="532.3" y="305">14</text><text x="542.2" y="305">15</text><text x="552.5" y="305">16</text>
</g>
<g font-size="5.6">
<text transform="translate(480,199) rotate(-90)">PD2</text><text transform="translate(490.3,199) rotate(-90)">PD1</text><text transform="translate(501,199) rotate(-90)">PD0</text><text transform="translate(511.7,199) rotate(-90)">PC6</text><text transform="translate(522,199) rotate(-90)">PC5</text><text transform="translate(532.8,199) rotate(-90)">PC4</text><text transform="translate(542.7,199) rotate(-90)">PC3</text><text transform="translate(553,199) rotate(-90)">PC2</text>
<text transform="translate(480,296) rotate(-90)">PD5</text><text transform="translate(490.3,296) rotate(-90)">PD6</text><text transform="translate(501,296) rotate(-90)">PD7</text><text transform="translate(511.7,296) rotate(-90)">PB0</text><text transform="translate(522,296) rotate(-90)">PB1</text><text transform="translate(532.8,296) rotate(-90)">PB2</text><text transform="translate(542.7,296) rotate(-90)">PB3</text><text transform="translate(553,296) rotate(-90)">PB4</text>
</g>
<text x="598.5" y="245" font-size="7">C2</text>
<text x="597.5" y="267" font-size="6.5">100nF</text>
<text x="311.2" y="263" font-size="5">R1</text>
<text x="311.2" y="268.5" font-size="5">100</text>
<text x="307.5" y="294" font-size="10.5">C1</text>
<text x="308" y="329" font-size="10">10µ</text>
<text transform="translate(227,264) rotate(90)" font-size="11">D1</text>
<text transform="translate(363,264) rotate(90)" font-size="11">D2</text>
<g font-size="5.2">
<text x="326.5" y="395">VCC - SCK</text><text x="326" y="401">GND - MISO</text><text x="326" y="407">RST  - MOSI</text>
</g>
<g font-size="6.5">
<text transform="translate(454.8,375) rotate(90)">4K7</text><text transform="translate(477.8,375) rotate(90)">4K7</text><text transform="translate(496.8,375) rotate(90)">4K7</text><text transform="translate(517.8,375) rotate(90)">4K7</text><text transform="translate(538.5,375) rotate(90)">4K7</text><text transform="translate(559.5,375) rotate(90)">4K7</text><text transform="translate(580.2,375) rotate(90)">4K7</text>
<text transform="translate(463.5,375) rotate(90)">R2</text><text transform="translate(486.5,375) rotate(90)">R3</text><text transform="translate(505.5,375) rotate(90)">R4</text><text transform="translate(526.5,375) rotate(90)">R5</text><text transform="translate(547.2,375) rotate(90)">R6</text><text transform="translate(568.2,375) rotate(90)">R7</text><text transform="translate(588.9,375) rotate(90)">R8</text>
</g>
<g font-size="4.8">
<text x="252.5" y="427.2">39</text><text x="252.5" y="448.1">39</text><text x="252.5" y="469.2">39</text><text x="252.5" y="490.2">39</text><text x="252.5" y="511">39</text><text x="252.5" y="532.2">39</text><text x="252.5" y="553.1">39</text>
</g>
<text transform="translate(1059.5,142) rotate(90)" font-size="4.5">330</text>
</svg>
</body></html>
